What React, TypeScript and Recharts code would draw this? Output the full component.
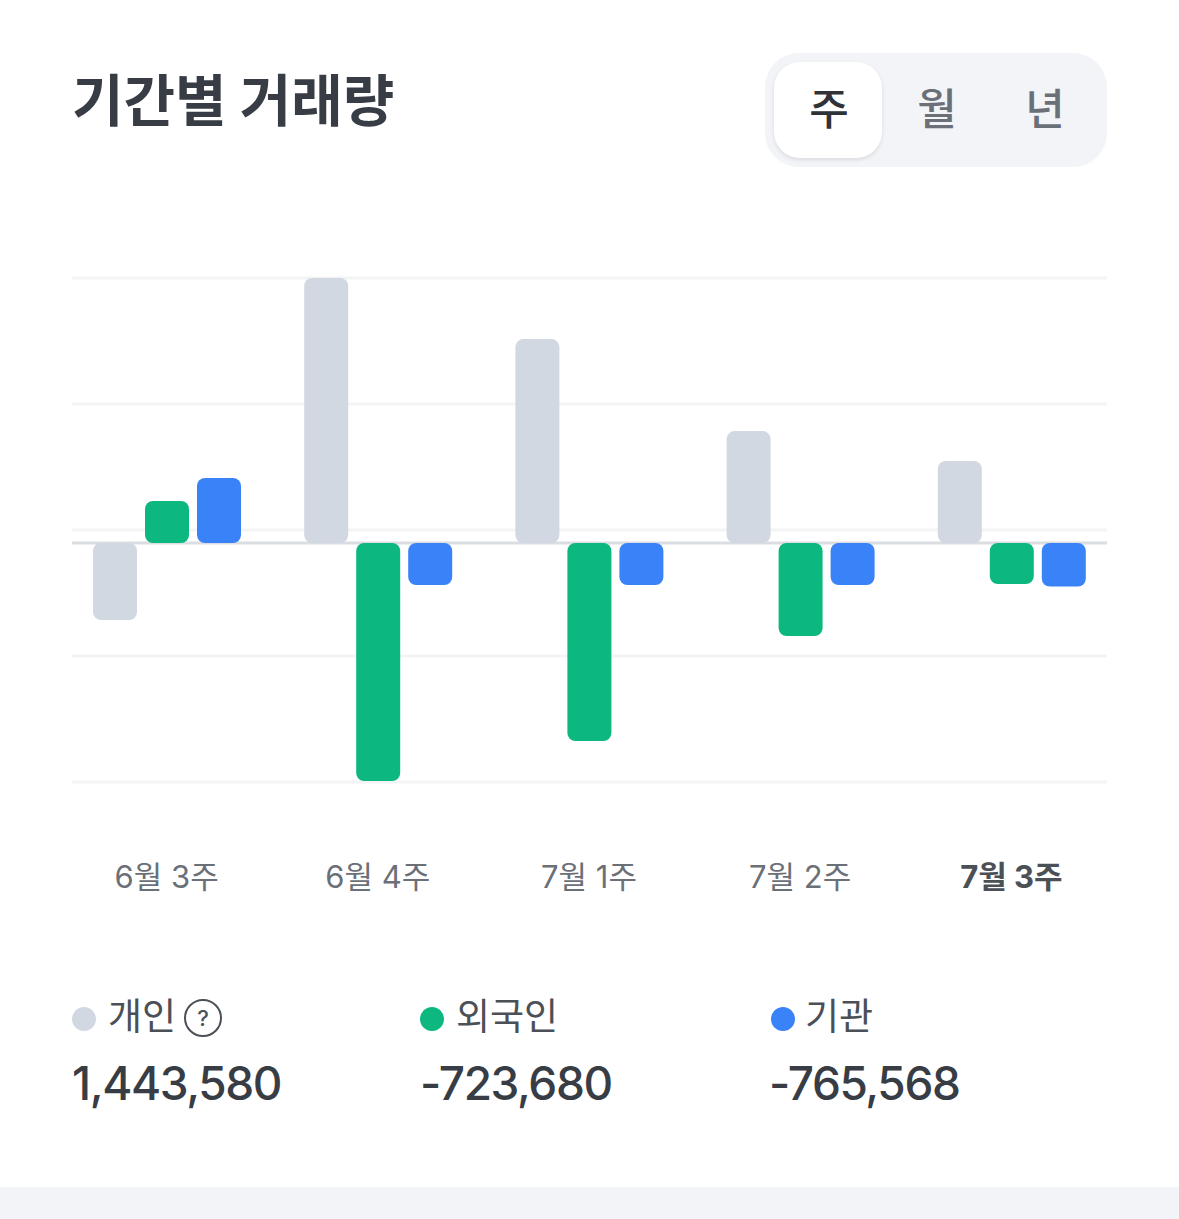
import React from 'react';
import { BarChart, Bar, XAxis, YAxis, CartesianGrid } from 'recharts';

const weeks = ['6월 3주', '6월 4주', '7월 1주', '7월 2주', '7월 3주'];
const personal = [-1355000, 4665000, 3590000, 1970000, 1443580];
const foreign = [740000, -4190000, -3485000, -1637000, -723680];
const institution = [1145000, -740000, -740000, -740000, -765568];
const gridTicks = [4665000, 2447000, 229000, -1989000, -4207000];
const zeroLine = [0];
const periods = ['주', '월', '년'];
const seriesNames = ['개인', '외국인', '기관'];

const GRAY = '#d2d8e1';
const GREEN = '#0cb87f';
const BLUE = '#3a82f8';
const FONT = 'Inter, "Noto Sans CJK KR", sans-serif';

const data = weeks.map((week, i) => ({
  week,
  personal: personal[i],
  foreign: foreign[i],
  institution: institution[i],
}));

function WeekTick({ x, y, payload }: any) {
  const last = payload.value === weeks[weeks.length - 1];
  return (
    <text
      x={x}
      y={y + 100}
      textAnchor="middle"
      fontFamily={FONT}
      fontSize={31}
      fontWeight={last ? 700 : 400}
      fill={last ? '#4b5057' : '#6b7078'}
    >
      {payload.value}
    </text>
  );
}

const legendItems = [
  { name: seriesNames[0], total: personal[4], color: GRAY, dotX: 72, valueX: 72 },
  { name: seriesNames[1], total: foreign[4], color: GREEN, dotX: 420, valueX: 420 },
  { name: seriesNames[2], total: institution[4], color: BLUE, dotX: 771, valueX: 769 },
];

export default function App() {
  return (
    <div
      style={{
        position: 'absolute',
        left: 0,
        top: 0,
        width: 1179,
        height: 1219,
        overflow: 'hidden',
        background: '#fff',
        fontFamily: FONT,
      }}
    >
      <div
        style={{
          position: 'absolute',
          left: 72,
          top: 66,
          fontSize: 56,
          lineHeight: '70px',
          fontWeight: 700,
          color: '#383d45',
          whiteSpace: 'nowrap',
        }}
      >
        기간별 거래량
      </div>

      <div
        style={{
          position: 'absolute',
          left: 765,
          top: 53,
          width: 342,
          height: 114,
          borderRadius: 34,
          background: '#f3f4f8',
        }}
      />
      <div
        style={{
          position: 'absolute',
          left: 774,
          top: 62,
          width: 108,
          height: 96,
          borderRadius: 26,
          background: '#fff',
          boxShadow: '0 2px 4px rgba(0,0,0,0.1)',
        }}
      />
      {periods.map((p, i) => (
        <div
          key={p}
          style={{
            position: 'absolute',
            left: 775 + i * 108,
            top: 62,
            width: 108,
            height: 96,
            lineHeight: '94px',
            textAlign: 'center',
            fontSize: 43,
            fontWeight: 500,
            color: i === 0 ? '#2f3338' : '#6b7078',
          }}
        >
          {p}
        </div>
      ))}

      <div style={{ position: 'absolute', left: 0, top: 0 }}>
        <BarChart
          width={1179}
          height={950}
          data={data}
          margin={{ top: 278, right: 72, bottom: 108, left: 72 }}
          barSize={44}
          barGap={8}
        >
          <CartesianGrid vertical={false} stroke="#f3f4f6" strokeWidth={3} horizontalValues={gridTicks} />
          <CartesianGrid vertical={false} stroke="#dadde2" strokeWidth={3} horizontalValues={zeroLine} />
          <XAxis
            dataKey="week"
            axisLine={false}
            tickLine={false}
            height={60}
            interval={0}
            padding={{ left: -11, right: -10 }}
            tick={<WeekTick />}
            tickMargin={0}
          />
          <YAxis hide domain={[-4207000, 4665000]} ticks={gridTicks} />
          <Bar dataKey="personal" fill={GRAY} radius={8} isAnimationActive={false} />
          <Bar dataKey="foreign" fill={GREEN} radius={8} isAnimationActive={false} />
          <Bar dataKey="institution" fill={BLUE} radius={8} isAnimationActive={false} />
        </BarChart>
      </div>

      {legendItems.map((item, i) => (
        <React.Fragment key={item.name}>
          <div
            style={{
              position: 'absolute',
              left: item.dotX,
              top: 1007,
              width: 24,
              height: 24,
              borderRadius: '50%',
              background: item.color,
            }}
          />
          <div
            style={{
              position: 'absolute',
              left: item.dotX + (i === 2 ? 34 : 36),
              top: 993,
              fontSize: 37,
              lineHeight: '48px',
              color: '#4b5057',
              whiteSpace: 'nowrap',
            }}
          >
            {item.name}
          </div>
          <div
            style={{
              position: 'absolute',
              left: item.valueX,
              top: 1053,
              fontSize: 46,
              lineHeight: '60px',
              fontWeight: 500,
              letterSpacing: -1.4,
              color: '#383d45',
              whiteSpace: 'nowrap',
            }}
          >
            {item.total.toLocaleString('en-US')}
          </div>
        </React.Fragment>
      ))}
      <div
        style={{
          position: 'absolute',
          left: 184,
          top: 999,
          width: 34,
          height: 34,
          border: '2.5px solid #4b5057',
          borderRadius: '50%',
          textAlign: 'center',
          lineHeight: '34px',
          fontSize: 22,
          fontWeight: 500,
          color: '#4b5057',
        }}
      >
        ?
      </div>

      <div style={{ position: 'absolute', left: 0, top: 1187, width: 1179, height: 32, background: '#f3f4f8' }} />
    </div>
  );
}
